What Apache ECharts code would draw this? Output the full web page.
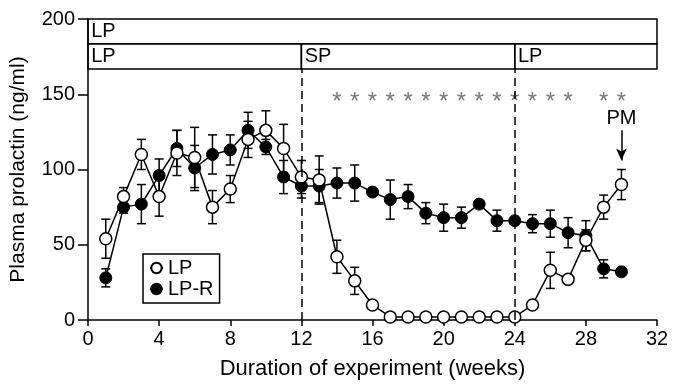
<!DOCTYPE html>
<html>
<head>
<meta charset="utf-8">
<script src="https://cdn.jsdelivr.net/npm/echarts@6/dist/echarts.min.js"></script>
<style>
  html, body { margin: 0; background: #fff; }
  #chart { width: 673px; height: 387px; }
</style>
</head>
<body>
<div id="chart"></div>
<script>
const weeks = [1, 2, 3, 4, 5, 6, 7, 8, 9, 10, 11, 12, 13, 14, 15, 16, 17, 18, 19, 20, 21, 22, 23, 24, 25, 26, 27, 28, 29, 30];
// LP group (open circles)
const lpMean = [54, 82, 110, 82, 111, 108, 75, 87, 120, 126, 114, 95, 93, 42, 26, 10, 2, 2, 2, 2, 2, 2, 2, 2, 10, 33, 27, 53, 75, 90];
const lpErr = [13, 6, 10, 13, 15, 20, 11, 9, 12, 13, 16, 11, 16, 11, 9, 0, 0, 0, 0, 0, 0, 0, 0, 0, 0, 12, 0, 7, 8, 10];
// LP-R group (filled circles)
const lprMean = [28, 75, 77, 96, 114, 101, 110, 113, 126, 115, 95, 89, 89, 91, 91, 85, 80, 82, 71, 68, 68, 77, 66, 66, 64, 64, 58, 56, 34, 32];
const lprErr = [6, 4, 13, 11, 12, 15, 13, 10, 12, 5, 11, 8, 11, 10, 12, 0, 13, 8, 7, 9, 7, 0, 7, 0, 6, 9, 10, 10, 6, 0];
// weeks with significant difference
const starWeeks = [14, 15, 16, 17, 18, 19, 20, 21, 22, 23, 24, 25, 26, 27, 29, 30];
const starLevel = 148;
// photoperiod bars
const phaseTop = ['LP'];
const phaseBottom = [['LP', 0, 12], ['SP', 12, 24], ['LP', 24, 32]];
const switchWeeks = [12, 24];

const FONT = 'Liberation Sans, Arial, Helvetica, sans-serif';
const boxTop = 200, boxMid = 183.6, boxBottom = 166.8;

function errData(means, errs) {
  return weeks.map((w, i) => [w, means[i] - errs[i], means[i] + errs[i]]).filter(d => d[2] > d[1]);
}

function renderErr(params, api) {
  const x = api.value(0);
  const lo = api.coord([x, api.value(1)]);
  const hi = api.coord([x, api.value(2)]);
  const hw = 4.5;
  const style = { stroke: '#000', lineWidth: 1.5 };
  return {
    type: 'group',
    children: [
      { type: 'line', shape: { x1: lo[0], y1: lo[1], x2: hi[0], y2: hi[1] }, style },
      { type: 'line', shape: { x1: lo[0] - hw, y1: lo[1], x2: lo[0] + hw, y2: lo[1] }, style },
      { type: 'line', shape: { x1: hi[0] - hw, y1: hi[1], x2: hi[0] + hw, y2: hi[1] }, style }
    ]
  };
}

const boxStyle = { color: 'rgba(0,0,0,0)', borderColor: '#000', borderWidth: 1.5 };
const boxLabel = { show: true, position: 'insideLeft', distance: 4, color: '#000', fontSize: 20, fontFamily: FONT };

const areas = [
  [{ name: phaseTop[0], xAxis: 0, yAxis: boxMid }, { xAxis: 32, yAxis: boxTop }]
].concat(phaseBottom.map(p => [{ name: p[0], xAxis: p[1], yAxis: boxBottom }, { xAxis: p[2], yAxis: boxMid }]));

const chart = echarts.init(document.getElementById('chart'));
chart.setOption({
  animation: false,
  textStyle: { fontFamily: FONT },
  grid: { left: 88, right: 16, top: 19, bottom: 67 },
  xAxis: {
    type: 'value', min: 0, max: 32, interval: 4,
    name: 'Duration of experiment (weeks)', nameLocation: 'middle', nameGap: 38,
    nameTextStyle: { fontSize: 22, color: '#000', fontFamily: FONT },
    axisLine: { lineStyle: { color: '#000', width: 1.5 } },
    axisTick: { inside: false, length: 6, lineStyle: { color: '#000', width: 1.5 } },
    axisLabel: { fontSize: 20, color: '#000', margin: 9, fontFamily: FONT },
    splitLine: { show: false }
  },
  yAxis: {
    type: 'value', min: 0, max: 200, interval: 50,
    name: 'Plasma prolactin (ng/ml)', nameLocation: 'middle', nameGap: 59,
    nameTextStyle: { fontSize: 21, color: '#000', fontFamily: FONT },
    axisLine: { show: true, lineStyle: { color: '#000', width: 1.5 } },
    axisTick: { show: true, inside: false, length: 10, lineStyle: { color: '#000', width: 1.5 } },
    axisLabel: { fontSize: 20, color: '#000', margin: 13, fontFamily: FONT },
    splitLine: { show: false }
  },
  legend: {
    orient: 'vertical', left: 143, top: 254,
    data: ['LP', 'LP-R'],
    borderColor: '#000', borderWidth: 1.5, borderRadius: 0,
    padding: [4, 6, 4, 6], itemGap: 1, itemWidth: 13, itemHeight: 13,
    textStyle: { fontSize: 20, color: '#000', fontFamily: FONT }
  },
  series: [
    {
      type: 'custom', name: 'errLPR', renderItem: renderErr, data: errData(lprMean, lprErr),
      encode: { x: 0, y: [1, 2] }, z: 1, silent: true
    },
    {
      type: 'custom', name: 'errLP', renderItem: renderErr, data: errData(lpMean, lpErr),
      encode: { x: 0, y: [1, 2] }, z: 1, silent: true
    },
    {
      name: 'LP-R', type: 'line', data: weeks.map((w, i) => [w, lprMean[i]]),
      symbol: 'circle', symbolSize: 12, z: 3,
      lineStyle: { color: '#000', width: 1.5 },
      itemStyle: { color: '#000', borderColor: '#000', borderWidth: 1 }
    },
    {
      name: 'LP', type: 'line', data: weeks.map((w, i) => [w, lpMean[i]]),
      symbol: 'circle', symbolSize: 12, z: 4,
      lineStyle: { color: '#000', width: 1.5 },
      itemStyle: { color: '#fff', borderColor: '#000', borderWidth: 1.5 }
    },
    {
      name: 'phases', type: 'scatter', data: [], silent: true,
      markArea: { silent: true, itemStyle: boxStyle, label: boxLabel, data: areas },
      markLine: {
        silent: true, symbol: 'none',
        lineStyle: { color: '#000', width: 1.5, type: [8, 5] },
        label: { show: false },
        data: switchWeeks.map(w => [{ coord: [w, 0] }, { coord: [w, boxBottom] }])
      }
    },
    {
      name: 'pm', type: 'scatter', data: [], silent: true,
      markLine: {
        silent: true, symbol: ['none', 'arrow'], symbolSize: [8, 12],
        lineStyle: { color: '#000', width: 1.5, type: 'solid' },
        label: { show: true, position: 'start', formatter: 'PM', color: '#000', fontSize: 20, fontFamily: FONT, distance: 2 },
        data: [[{ coord: [30, 126] }, { coord: [30, 106] }]]
      }
    },
    {
      name: 'stars', type: 'scatter', silent: true, symbolSize: 1,
      itemStyle: { color: 'rgba(0,0,0,0)' },
      data: starWeeks.map(w => [w, starLevel]),
      label: { show: true, position: 'inside', formatter: '*', color: '#555', fontSize: 24, fontFamily: FONT, offset: [0, 5] }
    }
  ]
});
</script>
</body>
</html>
